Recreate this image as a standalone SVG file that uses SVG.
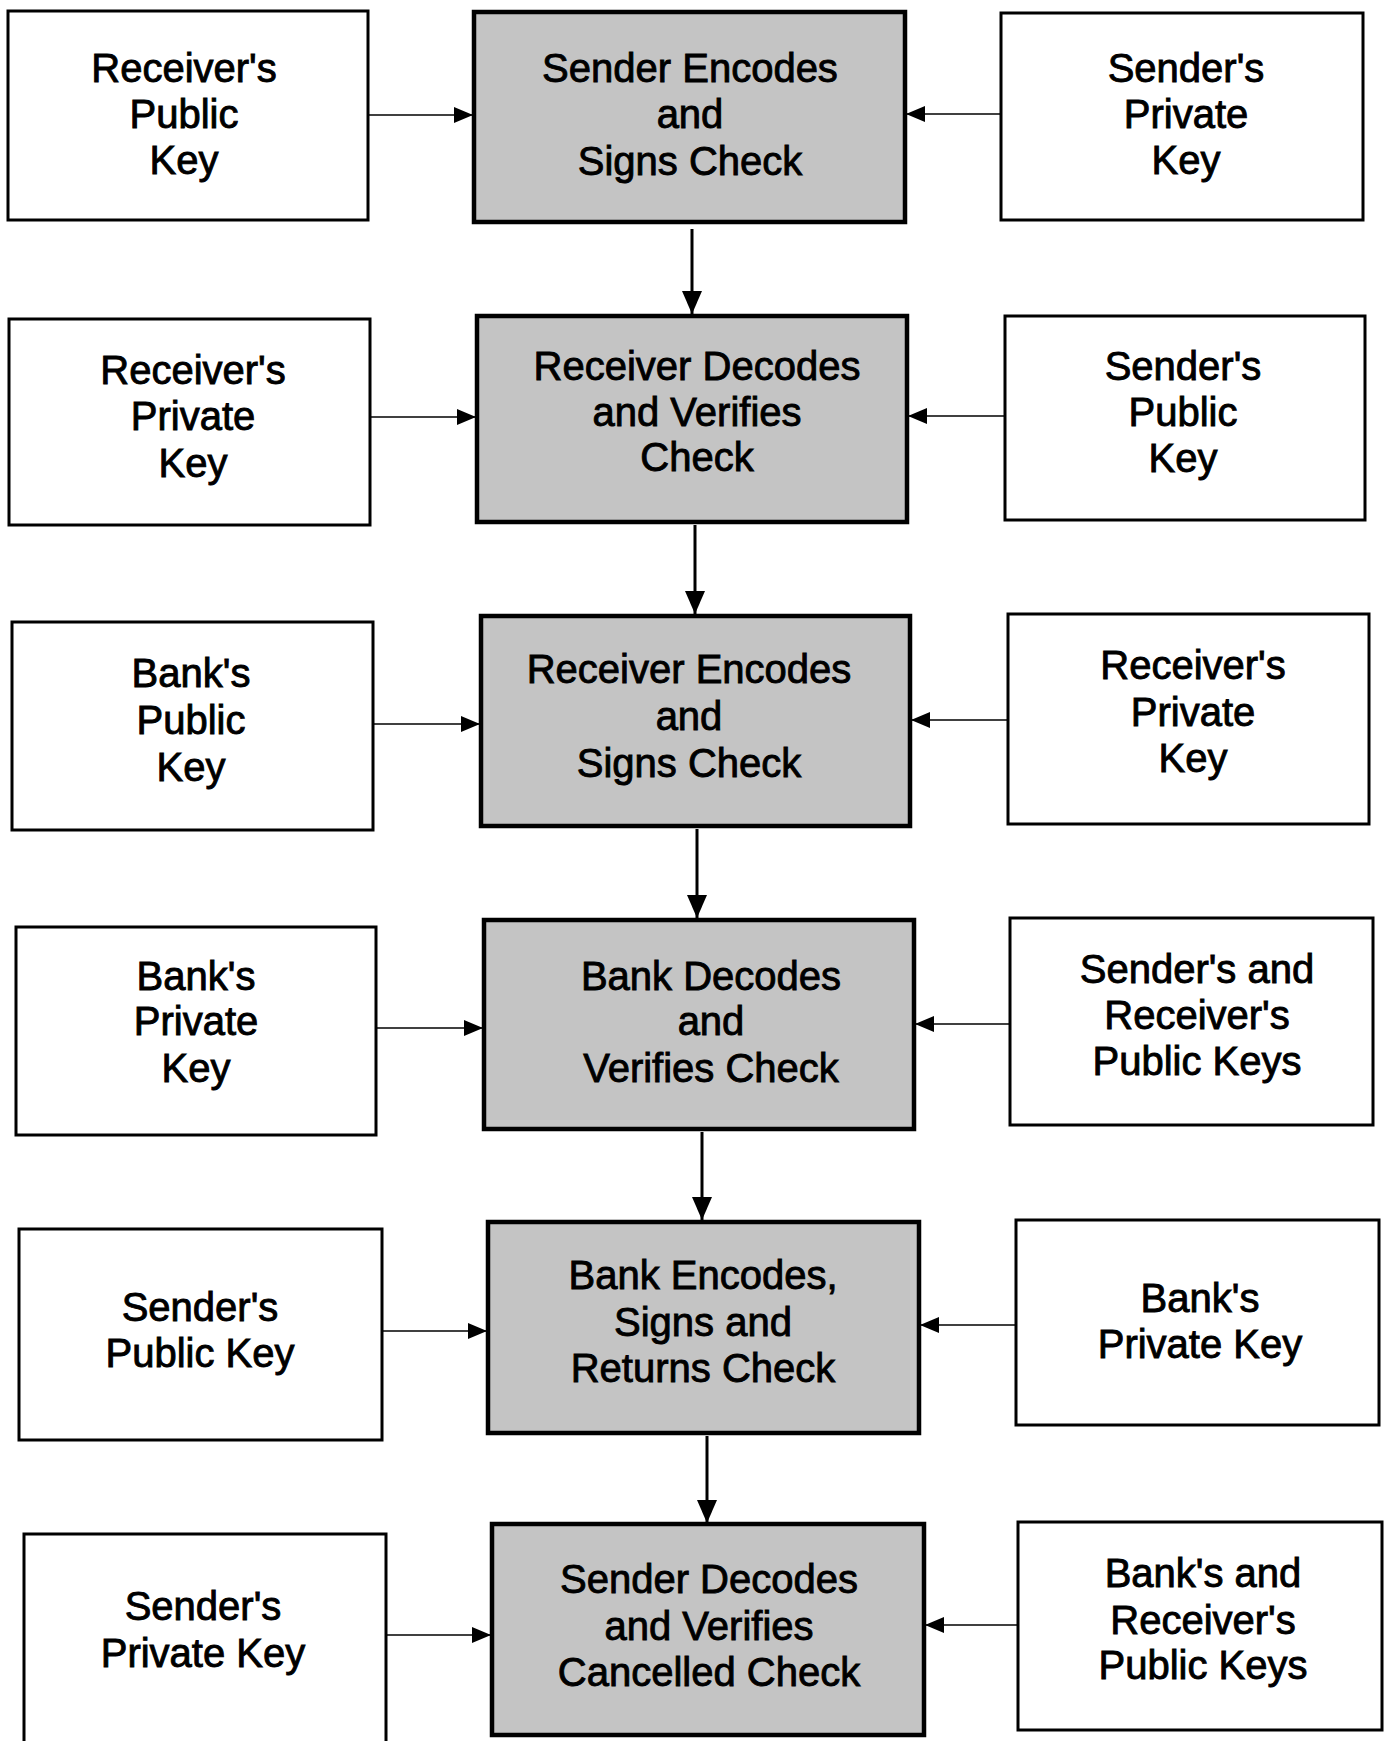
<svg xmlns="http://www.w3.org/2000/svg" width="1391" height="1741" viewBox="0 0 1391 1741">
<style>
.key{fill:#fff;stroke:#000;stroke-width:3}
.step{fill:#c4c4c4;stroke:#000;stroke-width:4.5}
text{font-family:"Liberation Sans",Arial,sans-serif;font-size:40px;fill:#000;text-anchor:middle;stroke:#000;stroke-width:0.9}
.h{stroke:#000;stroke-width:1.6;fill:none}
.v{stroke:#000;stroke-width:3;fill:none}
</style>
<defs>
<marker id="ah" markerUnits="userSpaceOnUse" markerWidth="20" markerHeight="20" refX="19" refY="10" orient="auto"><path d="M0,2 L19,10 L0,18 Z" fill="#000"/></marker>
<marker id="av" markerUnits="userSpaceOnUse" markerWidth="24" markerHeight="24" refX="23" refY="12" orient="auto"><path d="M0,2 L23,12 L0,22 Z" fill="#000"/></marker>
</defs>
<rect width="1391" height="1741" fill="#fff"/>

<g id="connectors">
<line class="h" x1="368" y1="115" x2="473" y2="115" marker-end="url(#ah)"/>
<line class="h" x1="1001" y1="114" x2="906" y2="114" marker-end="url(#ah)"/>
<line class="v" x1="692" y1="229" x2="692" y2="314" marker-end="url(#av)"/>

<line class="h" x1="371" y1="417" x2="476" y2="417" marker-end="url(#ah)"/>
<line class="h" x1="1005" y1="416" x2="908" y2="416" marker-end="url(#ah)"/>
<line class="v" x1="695" y1="525" x2="695" y2="614" marker-end="url(#av)"/>

<line class="h" x1="374" y1="724" x2="480" y2="724" marker-end="url(#ah)"/>
<line class="h" x1="1008" y1="720" x2="911" y2="720" marker-end="url(#ah)"/>
<line class="v" x1="697" y1="829" x2="697" y2="918" marker-end="url(#av)"/>

<line class="h" x1="377" y1="1028" x2="483" y2="1028" marker-end="url(#ah)"/>
<line class="h" x1="1010" y1="1024" x2="915" y2="1024" marker-end="url(#ah)"/>
<line class="v" x1="702" y1="1132" x2="702" y2="1220" marker-end="url(#av)"/>

<line class="h" x1="383" y1="1331" x2="487" y2="1331" marker-end="url(#ah)"/>
<line class="h" x1="1016" y1="1325" x2="920" y2="1325" marker-end="url(#ah)"/>
<line class="v" x1="707" y1="1436" x2="707" y2="1523" marker-end="url(#av)"/>

<line class="h" x1="387" y1="1635" x2="491" y2="1635" marker-end="url(#ah)"/>
<line class="h" x1="1018" y1="1625" x2="925" y2="1625" marker-end="url(#ah)"/>
</g>

<g id="n1l"><rect class="key" x="8" y="11" width="360" height="209"/>
<text x="184" y="82">Receiver's</text><text x="184" y="128">Public</text><text x="184" y="174">Key</text></g>
<g id="n1c"><rect class="step" x="474" y="12" width="431" height="210"/>
<text x="690" y="82">Sender Encodes</text><text x="690" y="128">and</text><text x="690" y="175">Signs Check</text></g>
<g id="n1r"><rect class="key" x="1001" y="13" width="362" height="207"/>
<text x="1186" y="82">Sender's</text><text x="1186" y="128">Private</text><text x="1186" y="174">Key</text></g>

<g id="n2l"><rect class="key" x="9" y="319" width="361" height="206"/>
<text x="193" y="384">Receiver's</text><text x="193" y="430">Private</text><text x="193" y="477">Key</text></g>
<g id="n2c"><rect class="step" x="477" y="316" width="430" height="206"/>
<text x="697" y="380">Receiver Decodes</text><text x="697" y="426">and Verifies</text><text x="697" y="471">Check</text></g>
<g id="n2r"><rect class="key" x="1005" y="316" width="360" height="204"/>
<text x="1183" y="380">Sender's</text><text x="1183" y="426">Public</text><text x="1183" y="472">Key</text></g>

<g id="n3l"><rect class="key" x="12" y="622" width="361" height="208"/>
<text x="191" y="687">Bank's</text><text x="191" y="734">Public</text><text x="191" y="781">Key</text></g>
<g id="n3c"><rect class="step" x="481" y="616" width="429" height="210"/>
<text x="689" y="683">Receiver Encodes</text><text x="689" y="730">and</text><text x="689" y="777">Signs Check</text></g>
<g id="n3r"><rect class="key" x="1008" y="614" width="361" height="210"/>
<text x="1193" y="679">Receiver's</text><text x="1193" y="726">Private</text><text x="1193" y="772">Key</text></g>

<g id="n4l"><rect class="key" x="16" y="927" width="360" height="208"/>
<text x="196" y="990">Bank's</text><text x="196" y="1035">Private</text><text x="196" y="1082">Key</text></g>
<g id="n4c"><rect class="step" x="484" y="920" width="430" height="209"/>
<text x="711" y="990">Bank Decodes</text><text x="711" y="1035">and</text><text x="711" y="1082">Verifies Check</text></g>
<g id="n4r"><rect class="key" x="1010" y="918" width="363" height="207"/>
<text x="1197" y="983">Sender's and</text><text x="1197" y="1029">Receiver's</text><text x="1197" y="1075">Public Keys</text></g>

<g id="n5l"><rect class="key" x="19" y="1229" width="363" height="211"/>
<text x="200" y="1321">Sender's</text><text x="200" y="1367">Public Key</text></g>
<g id="n5c"><rect class="step" x="488" y="1222" width="431" height="211"/>
<text x="703" y="1289">Bank Encodes,</text><text x="703" y="1336">Signs and</text><text x="703" y="1382">Returns Check</text></g>
<g id="n5r"><rect class="key" x="1016" y="1220" width="363" height="205"/>
<text x="1200" y="1312">Bank's</text><text x="1200" y="1358">Private Key</text></g>

<g id="n6l"><rect class="key" x="24" y="1534" width="362" height="215"/>
<text x="203" y="1620">Sender's</text><text x="203" y="1667">Private Key</text></g>
<g id="n6c"><rect class="step" x="492" y="1524" width="432" height="211"/>
<text x="709" y="1593">Sender Decodes</text><text x="709" y="1640">and Verifies</text><text x="709" y="1686">Cancelled Check</text></g>
<g id="n6r"><rect class="key" x="1018" y="1522" width="364" height="208"/>
<text x="1203" y="1587">Bank's and</text><text x="1203" y="1634">Receiver's</text><text x="1203" y="1679">Public Keys</text></g>
</svg>
